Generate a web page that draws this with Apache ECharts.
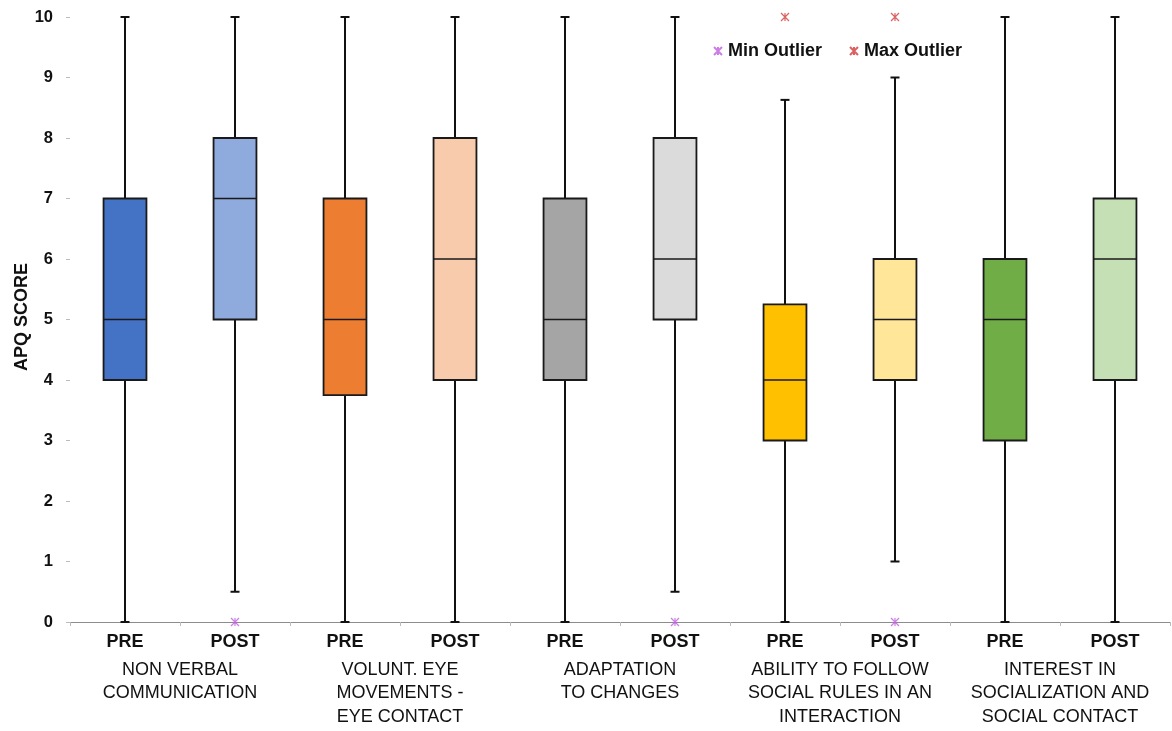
<!DOCTYPE html>
<html>
<head>
<meta charset="utf-8">
<script src="https://cdn.jsdelivr.net/npm/echarts@6/dist/echarts.min.js"></script>
<style>html,body{margin:0;padding:0;background:#fff}#c{width:1172px;height:731px}</style>
</head>
<body>
<div id="c"></div>
<script>
var categories = ['PRE','POST','PRE','POST','PRE','POST','PRE','POST','PRE','POST'];
var groups = ['NON VERBAL\nCOMMUNICATION','VOLUNT. EYE\nMOVEMENTS -\nEYE CONTACT','ADAPTATION\nTO CHANGES','ABILITY TO FOLLOW\nSOCIAL RULES IN AN\nINTERACTION','INTEREST IN\nSOCIALIZATION AND\nSOCIAL CONTACT'];
var yTitle = 'APQ SCORE';
var mins    = [0, 0.5, 0,    0, 0, 0.5, 0,    1, 0, 0];
var q1s     = [4, 5,   3.75, 4, 4, 5,   3,    4, 3, 4];
var medians = [5, 7,   5,    6, 5, 6,   4,    5, 5, 6];
var q3s     = [7, 8,   7,    8, 7, 8,   5.25, 6, 6, 7];
var maxs    = [10,10,  10,  10, 10,10,  8.63, 9, 10,10];
var minOutliers = [[1,0],[5,0],[7,0]];
var maxOutliers = [[6,10],[7,10]];
var yTicks = [0,1,2,3,4,5,6,7,8,9,10];
var boxColors = ['#4472C4','#8FAADC','#ED7D31','#F8CBAD','#A5A5A5','#DBDBDB','#FFC000','#FFE699','#70AD47','#C5E0B4'];

var boxData = categories.map(function(c,i){return [i, mins[i], q1s[i], medians[i], q3s[i], maxs[i]];});
var starPath = 'path://M0,0L10,10M10,0L0,10M5,0L5,10';
var FONT = 'Liberation Sans, Arial, sans-serif';

var chart = echarts.init(document.getElementById('c'));
chart.setOption({
  animation:false,
  grid:{left:70,right:2,top:17,bottom:109,containLabel:false,outerBoundsMode:'none'},
  graphic:[{
    type:'text', x:22, y:317, rotation:Math.PI/2,
    style:{text:yTitle, font:'bold 18px ' + FONT, fill:'#111', align:'center', verticalAlign:'middle'}
  }],
  legend:{
    left:713, top:42, padding:0, itemWidth:8, itemHeight:8, itemGap:27,
    textStyle:{fontFamily:FONT,fontSize:18,fontWeight:'bold',color:'#111',padding:[0,0,0,1]},
    data:['Min Outlier','Max Outlier']
  },
  xAxis:[{
    type:'category', data:categories, boundaryGap:true,
    axisLine:{lineStyle:{color:'#8c8c8c',width:1}},
    axisTick:{show:true,length:4,lineStyle:{color:'#bbb'}},
    axisLabel:{margin:11,fontFamily:FONT,fontSize:18,fontWeight:'bold',color:'#111'}
  },{
    type:'category', data:groups, position:'bottom', boundaryGap:true,
    axisLine:{show:false}, axisTick:{show:false},
    axisLabel:{margin:36,fontFamily:FONT,fontSize:18,lineHeight:23.5,color:'#111',interval:0}
  }],
  yAxis:{
    type:'value', min:0, max:10, interval:1,
    axisLine:{show:false},
    axisTick:{show:true,length:4,lineStyle:{color:'#bbb'}},
    splitLine:{show:false},
    axisLabel:{margin:17,fontFamily:FONT,fontSize:16.5,fontWeight:'bold',color:'#111',
      formatter:function(v){return yTicks.indexOf(v)>=0?String(v):'';}}
  },
  series:[{
    type:'custom', name:'box', xAxisIndex:0,
    encode:{x:0,y:[1,2,3,4,5]},
    data:boxData,
    renderItem:function(params,api){
      var i=api.value(0);
      var band=api.size([1,0])[0];
      var w=band*0.39, cap=9;
      var pMin=api.coord([i,api.value(1)]);
      var pQ1=api.coord([i,api.value(2)]);
      var pMed=api.coord([i,api.value(3)]);
      var pQ3=api.coord([i,api.value(4)]);
      var pMax=api.coord([i,api.value(5)]);
      var x=pMin[0];
      var ls={stroke:'#111',lineWidth:2};
      var bs={stroke:'#1a1a1a',lineWidth:1.5};
      return {type:'group',children:[
        {type:'line',shape:{x1:x,y1:pQ3[1],x2:x,y2:pMax[1]},style:ls},
        {type:'line',shape:{x1:x,y1:pQ1[1],x2:x,y2:pMin[1]},style:ls},
        {type:'line',shape:{x1:x-cap/2,y1:pMax[1],x2:x+cap/2,y2:pMax[1]},style:ls},
        {type:'line',shape:{x1:x-cap/2,y1:pMin[1],x2:x+cap/2,y2:pMin[1]},style:ls},
        {type:'rect',shape:{x:x-w/2,y:pQ3[1],width:w,height:pQ1[1]-pQ3[1]},
          style:{fill:boxColors[i],stroke:'#1a1a1a',lineWidth:1.8}},
        {type:'line',shape:{x1:x-w/2,y1:pMed[1],x2:x+w/2,y2:pMed[1]},style:bs}
      ]};
    },
    z:2
  },{
    type:'scatter', name:'Min Outlier', data:minOutliers, symbol:starPath, symbolSize:8,
    itemStyle:{color:'transparent',borderColor:'#C25BE0',borderWidth:1.2}, z:5
  },{
    type:'scatter', name:'Max Outlier', data:maxOutliers, symbol:starPath, symbolSize:8,
    itemStyle:{color:'transparent',borderColor:'#D23A3A',borderWidth:1.2}, z:5
  }]
});
</script>
</body>
</html>
